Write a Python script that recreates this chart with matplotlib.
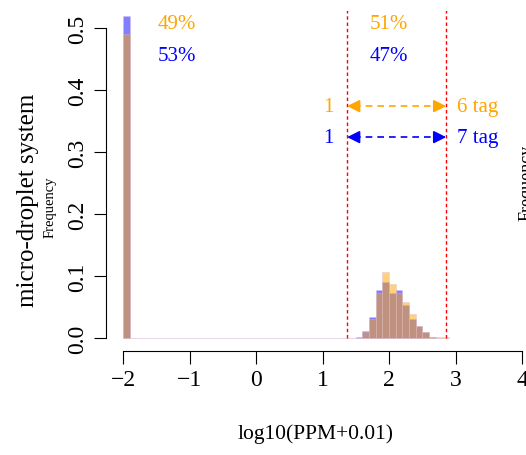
import numpy as np
import matplotlib
matplotlib.use("Agg")
import matplotlib.pyplot as plt

plt.rcParams['font.family'] = ['Liberation Serif', 'DejaVu Serif']

# histogram data (bin width 0.1 on log10 scale)
bin_width = 0.1
first_bin = -2.0
last_edge = 2.9
orange_spike = 0.49     # bin -2.0 .. -1.9
blue_spike = 0.52
cluster_start = 1.5
orange_cluster = [0.0, 0.009, 0.031, 0.073, 0.107, 0.087, 0.073,
                  0.058, 0.039, 0.019, 0.009, 0.002, 0.001, 0.001]
blue_cluster = [0.002, 0.011, 0.034, 0.078, 0.090, 0.072, 0.078,
                0.053, 0.031, 0.020, 0.009, 0.002, 0.0, 0.0]

cut_lo, cut_hi = 1.37, 2.86
orange_pct = ["49%", "51%"]
blue_pct = ["53%", "47%"]
orange_range = ["1", "6 tag"]
blue_range = ["1", "7 tag"]
x_ticks = [-2, -1, 0, 1, 2, 3, 4]
y_ticks = [0.0, 0.1, 0.2, 0.3, 0.4, 0.5]

# build full bar arrays
lefts = np.round(np.arange(first_bin, last_edge - 1e-9, bin_width), 2)
orange_h = np.zeros(len(lefts))
blue_h = np.zeros(len(lefts))
orange_h[0] = orange_spike
blue_h[0] = blue_spike
i0 = int(round((cluster_start - first_bin) / bin_width))
orange_h[i0:i0 + len(orange_cluster)] = orange_cluster
blue_h[i0:i0 + len(blue_cluster)] = blue_cluster

fig = plt.figure(figsize=(5.26, 4.56), dpi=100)
ax = fig.add_axes([106/526, 104/456, 420/526, 340/456])

edge = (0.85, 0.72, 0.85)
ax.bar(lefts, blue_h, width=bin_width, align='edge', color='blue',
       alpha=0.5, edgecolor=edge, linewidth=0.5)
ax.bar(lefts, orange_h, width=bin_width, align='edge', color='orange',
       alpha=0.5, edgecolor=edge, linewidth=0.5)

ax.vlines([cut_lo, cut_hi], 0, 0.53, colors='red', linestyles=(0, (2.5, 2)),
          linewidth=1)

# range arrows
for y, col, labs in [(0.374, 'orange', orange_range), (0.324, 'blue', blue_range)]:
    ax.plot([cut_lo + 0.1, cut_hi - 0.1], [y, y], color=col,
            linestyle=(0, (4, 3)), linewidth=1.2)
    for a, b in [(cut_lo + 0.18, cut_lo), (cut_hi - 0.18, cut_hi)]:
        ax.annotate('', xy=(b, y), xytext=(a, y),
                    arrowprops=dict(arrowstyle='-|>', color=col, lw=1.2,
                                    mutation_scale=19, shrinkA=0, shrinkB=0))
    ax.text(cut_lo - 0.2, y, labs[0], color=col, fontsize=15,
            ha='right', va='center')
    ax.text(cut_hi + 0.16, y, labs[1], color=col, fontsize=15,
            ha='left', va='center')

ax.text(-1.19, 0.508, orange_pct[0], color='orange', fontsize=15,
        ha='center', va='center')
ax.text(-1.19, 0.455, blue_pct[0], color='blue', fontsize=15,
        ha='center', va='center')
ax.text(2.0, 0.508, orange_pct[1], color='orange', fontsize=15,
        ha='center', va='center')
ax.text(2.0, 0.455, blue_pct[1], color='blue', fontsize=15,
        ha='center', va='center')

ax.set_xlim(-2 - 17/66.5, -2 + 403/66.5)
ax.set_ylim(-13/620, 327/620)

for s in ['top', 'right']:
    ax.spines[s].set_visible(False)
ax.spines['left'].set_bounds(0, 0.5)
ax.spines['bottom'].set_bounds(-2, 4)
ax.spines['left'].set_linewidth(0.8)
ax.spines['bottom'].set_linewidth(0.8)

ax.set_xticks(x_ticks)
ax.set_xticklabels(["\u22122", "\u22121", "0", "1", "2", "3", "4"])
ax.set_yticks(y_ticks)
ax.set_yticklabels(["%.1f" % v for v in y_ticks], rotation=90, va='center')
ax.tick_params(axis='both', direction='out', length=9, width=0.8,
               labelsize=17, pad=4)

ax.set_xlabel("log10(PPM+0.01)", fontsize=15.5, labelpad=24)

fig.text(28/526, 1 - 200/456, "micro-droplet system", rotation=90,
         fontsize=18, ha='center', va='center')
fig.text(50/526, 1 - 207/456, "Frequency", rotation=90,
         fontsize=10.5, ha='center', va='center')
fig.text(527/526, 1 - 183/456, "Frequency", rotation=90,
         fontsize=13, ha='center', va='center')

fig.savefig("out.png", dpi=100)
